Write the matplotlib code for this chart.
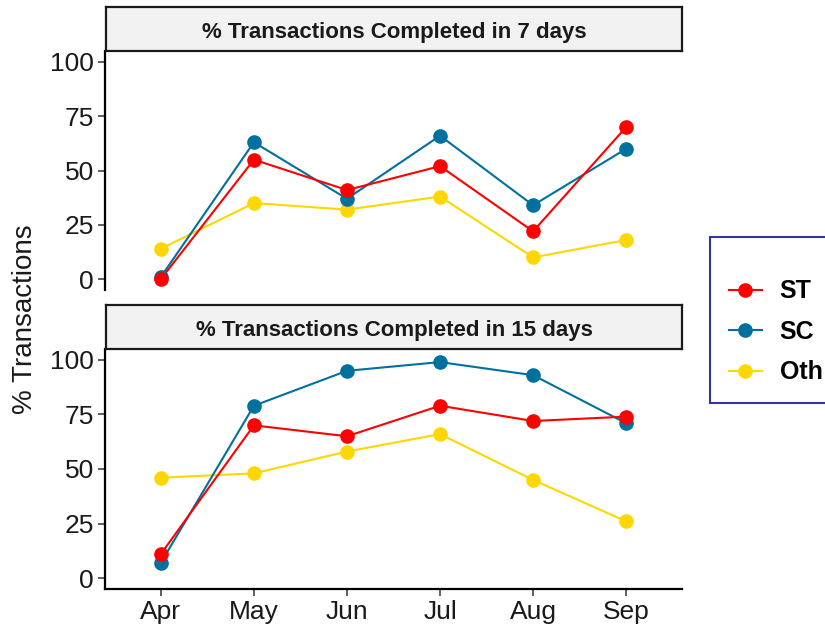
import matplotlib
matplotlib.use("Agg")
import matplotlib.pyplot as plt
from matplotlib.lines import Line2D

plt.rcParams['font.family'] = ['Liberation Sans', 'DejaVu Sans']

months = ["Apr", "May", "Jun", "Jul", "Aug", "Sep"]
series = ["ST", "SC", "Oth"]
colors = {"ST": "#FF0000", "SC": "#00709E", "Oth": "#FFD700"}

# % completed in 7 days
st_7 = [0, 55, 41, 52, 22, 70]
sc_7 = [1, 63, 37, 66, 34, 60]
oth_7 = [14, 35, 32, 38, 10, 18]

# % completed in 15 days
st_15 = [11, 70, 65, 79, 72, 74]
sc_15 = [7, 79, 95, 99, 93, 71]
oth_15 = [46, 48, 58, 66, 45, 26]

panels = [
    ("% Transactions Completed in 7 days", {"ST": st_7, "SC": sc_7, "Oth": oth_7}),
    ("% Transactions Completed in 15 days", {"ST": st_15, "SC": sc_15, "Oth": oth_15}),
]

W, H = 825, 632
fig = plt.figure(figsize=(W / 100, H / 100), dpi=100)

def px_axes(x0, y0, x1, y1):
    # pixel box (top-left origin) -> figure axes
    return fig.add_axes([x0 / W, 1 - y1 / H, (x1 - x0) / W, (y1 - y0) / H])

# (strip top, strip bottom = panel top, panel bottom)
boxes = [(7, 51, 290), (305, 349, 589)]
xs = list(range(len(months)))

for i, ((title, data), (st_top, pan_top, pan_bot)) in enumerate(zip(panels, boxes)):
    ax = px_axes(105, pan_top, 682, pan_bot)
    for name in ["Oth", "SC", "ST"]:
        ax.plot(xs, data[name], color=colors[name], lw=1.5, zorder=2)
    for k, name in enumerate(["Oth", "SC", "ST"]):
        ax.plot(xs, data[name], ls="none", marker="o", ms=9.5,
                color=colors[name], zorder=3 + k)
    ax.set_xlim(-0.6, 5.6)
    ax.set_ylim(-5, 105)
    ax.set_yticks([0, 25, 50, 75, 100])
    for s in ["top", "right"]:
        ax.spines[s].set_visible(False)
    ax.spines["left"].set_linewidth(1.6)
    ax.spines["bottom"].set_linewidth(1.6)
    ax.tick_params(axis="y", length=5, width=1.1, color="#333333",
                   labelsize=19, labelcolor="#1a1a1a", pad=3)
    if i == 0:
        ax.spines["bottom"].set_visible(False)
        ax.set_xticks([])
    else:
        ax.set_xticks(xs)
        ax.set_xticklabels(months)
        ax.tick_params(axis="x", length=5, width=1.1, color="#333333",
                       labelsize=19, labelcolor="#1a1a1a", pad=3)

    strip = px_axes(106, st_top, 682, pan_top)
    strip.set_facecolor("#F2F2F2")
    strip.set_xticks([])
    strip.set_yticks([])
    for s in strip.spines.values():
        s.set_linewidth(1.6)
        s.set_color("#1a1a1a")
    strip.text(0.5, 0.43, title, ha="center", va="center", fontsize=16,
               fontweight="bold", color="#1a1a1a", transform=strip.transAxes)

fig.text(25 / W, 1 - 319 / H, "% Transactions", rotation=90, ha="center",
         va="center", fontsize=20, color="#1a1a1a")

handles = [Line2D([0], [0], color=colors[n], lw=1.5, marker="o", ms=9.5)
           for n in series]
leg = fig.legend(handles, series, loc="upper left",
                 bbox_to_anchor=(710 / W, 1 - 237 / H), frameon=True,
                 fancybox=False, borderpad=0.75, labelspacing=0.66,
                 handlelength=1.32, handletextpad=0.72, borderaxespad=0,
                 prop={"size": 18, "weight": "bold"}, title=" ",
                 title_fontsize=5)
leg.get_frame().set_edgecolor("#00008B")
leg.get_frame().set_linewidth(1.5)

fig.savefig("out.png", dpi=100)
